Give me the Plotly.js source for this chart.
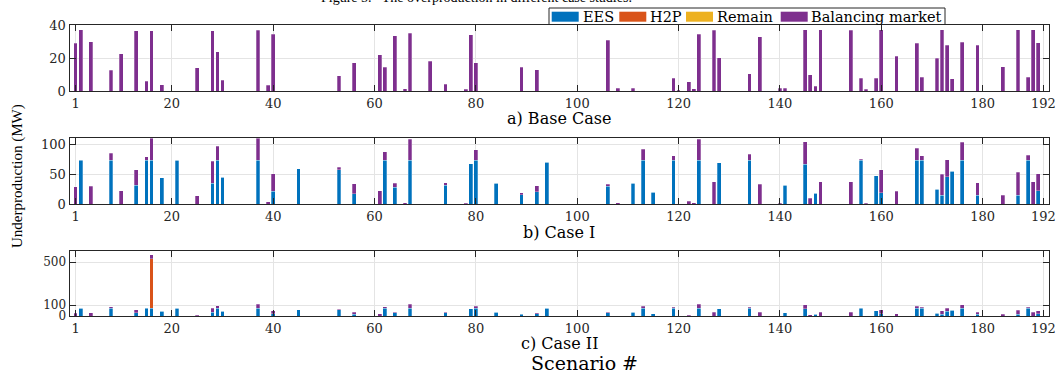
<!DOCTYPE html>
<html>
<head>
<meta charset="utf-8">
<script src="https://cdn.plot.ly/plotly-3.0.1.min.js"></script>
<style>html,body{margin:0;padding:0;background:#fff;}#chart{width:1060px;height:375px;}</style>
</head>
<body>
<div id="chart"></div>
<script>
// ---------- data ----------
const seriesNames = ["EES", "H2P", "Remain", "Balancing market"];
const seriesColors = ["#0072BD", "#D95319", "#EDB120", "#7E2F8E"];
const xTickVals = [1, 20, 40, 60, 80, 100, 120, 140, 160, 180, 192];
const xTickText = ["1", "20", "40", "60", "80", "100", "120", "140", "160", "180", "192"];
const panelLabels = ["a) Base Case", "b) Case I", "c) Case II"];

// a) Base Case – balancing market only
const baseScen = [1,2,4,8,10,13,15,16,18,25,28,29,30,37,39,40,53,56,61,62,64,66,67,71,74,78,79,80,89,92,106,108,111,119,120,122,123,124,127,128,134,136,140,141,145,146,147,148,154,156,157,159,160,163,167,168,171,172,173,174,176,179,184,187,189,190,191];
const baseBM = [29,37,30,12.5,22.5,36.5,6,36.5,3.7,14,36.5,23.7,6.5,36.7,3.5,34.5,9.2,17,22,14.5,33.5,1.4,35,18,4,1,34,17,14.3,13,30.8,1.8,1.8,7.6,0.6,5.5,1.4,34.3,36.7,20.2,10.4,33,1.6,1.6,37,9.8,3,37,36.7,7.6,1,7.6,37,21,28.8,8.4,19.8,37,27.8,7.3,29.4,27.8,14.7,37,8.4,37,29.2];

// b) Case I
const c1Scen = [1,2,4,8,10,13,15,16,18,21,25,28,29,30,37,39,40,45,53,56,61,62,64,66,67,74,78,79,80,84,89,92,94,106,108,111,113,115,119,122,123,124,127,128,134,136,140,141,145,146,147,148,154,156,157,159,160,163,167,168,171,172,173,174,176,179,184,187,189,190,191];
const c1EES = [0,73,0,73,0,31,73,73,44,73,0,35,73,45,73,0,21,59,57.5,17,0,73,28,0,73,31,0,67,73,35,15.6,20.7,70,30,0,34.6,73,20,73,0,0,73,0,69,73,0,0,31,66.5,0,18.4,0,0,73,0,47,19,0,73,73,24.6,15,46,55,73,15,0,15,73,0,22];
const c1BM = [29,1,30,12,22.5,26,6,37,0,0,14,37,23.6,0,37,3.4,30,0,4,17,22,14.5,6.5,1.7,35,4.5,1,0,17.5,0,3.4,9.5,0,3.3,1.7,0,19,0,7.4,5,1.7,35,37,0,10,33,1,0,38,10,0,37,37,2,1,0,38,21,20,8,0,35,28,0,30,21,14.5,38,8.6,37,29];

// c) Case II
const c2Scen = [1,2,4,8,13,15,16,18,21,25,28,29,30,37,39,40,45,53,56,61,62,64,66,67,74,78,79,80,84,89,92,94,106,108,111,113,115,119,122,123,124,127,128,134,136,140,141,145,146,147,148,154,156,157,159,160,163,167,168,171,172,173,174,176,179,184,187,189,190,191];
const c2EES = [0,73,0,73,31,73,73,44,73,0,35,73,45,73,0,21,59,57.5,17,0,73,28,0,73,31,0,67,73,35,15.6,20.7,70,30,0,34.6,73,20,73,0,0,73,0,69,73,0,0,31,66.5,0,18.4,0,0,73,0,47,19,0,73,73,24.6,15,46,55,73,15,0,15,73,0,22];
const c2H2PScen = [16];
const c2H2P = [460];
const c2BM = [25,1,28,12,26,6,35,0,0,9,37,23.6,0,37,3.4,30,0,4,17,22,14.5,6.5,1.7,35,4.5,1,0,17.5,0,3.4,9.5,0,3.3,1.7,0,19,0,7.4,5,1.7,35,37,0,10,33,1,0,38,10,0,37,37,2,1,0,38,21,20,8,0,35,28,0,30,21,14.5,38,8.6,37,29];

// ---------- layout helpers ----------
const W = 1060, H = 375;
const px = v => v / W;            // pixel x -> paper
const py = v => 1 - v / H;        // pixel y -> paper
const serif = '"DejaVu Serif", "Liberation Serif", serif';
const times = '"Liberation Serif", "Times New Roman", serif';
const axCol = "#262626";

function bar(x, y, k, xa, ya) {
  return {
    type: "bar", x: x, y: y, name: seriesNames[k], xaxis: xa, yaxis: ya,
    width: 0.75, showlegend: false, hoverinfo: "x+y+name",
    marker: { color: seriesColors[k], line: { width: 0.6, color: "rgba(255,255,255,0.45)" } }
  };
}

const data = [
  bar(baseScen, baseBM, 3, "x", "y"),
  bar(c1Scen, c1EES, 0, "x2", "y2"),
  bar(c1Scen, c1BM, 3, "x2", "y2"),
  bar(c2Scen, c2EES, 0, "x3", "y3"),
  bar(c2H2PScen, c2H2P, 1, "x3", "y3"),
  bar(c2Scen, c2BM, 3, "x3", "y3")
];

const xDom = [px(69.5), px(1049)];
function xAxis(anchor) {
  return {
    domain: xDom, anchor: anchor, range: [-0.2, 193.1],
    tickmode: "array", tickvals: xTickVals, ticktext: xTickText,
    ticks: "inside", ticklen: 6, tickwidth: 1, tickcolor: axCol,
    showline: true, linecolor: axCol, linewidth: 1, mirror: "ticks",
    showgrid: true, gridcolor: "#e4e4e4", gridwidth: 1, zeroline: false,
    tickfont: { family: serif, size: 13, color: axCol }, fixedrange: true
  };
}
function yAxis(anchor, dom, rng, ticks, fs) {
  return {
    domain: dom, anchor: anchor, range: rng,
    tickmode: "array", tickvals: ticks, ticktext: ticks.map(String),
    ticks: "inside", ticklen: 6, tickwidth: 1, tickcolor: axCol,
    showline: true, linecolor: axCol, linewidth: 1, mirror: "ticks",
    showgrid: true, gridcolor: "#e4e4e4", gridwidth: 1, zeroline: false,
    tickfont: { family: serif, size: fs, color: axCol }, fixedrange: true
  };
}

// custom legend (box, swatches, labels)
const legSwatchX = [551.7, 619.3, 686, 780.7];
const legTextX = [580.5, 648, 715, 809];
const shapes = [{
  type: "rect", xref: "paper", yref: "paper",
  x0: px(549), x1: px(945), y0: py(24.5), y1: py(8),
  line: { color: axCol, width: 1 }, fillcolor: "#ffffff", layer: "above"
}];
const annotations = [];
seriesNames.forEach((n, k) => {
  shapes.push({
    type: "rect", xref: "paper", yref: "paper",
    x0: px(legSwatchX[k]), x1: px(legSwatchX[k] + 27), y0: py(21.7), y1: py(11.7),
    line: { width: 0 }, fillcolor: seriesColors[k], layer: "above"
  });
  annotations.push({
    xref: "paper", yref: "paper", x: px(legTextX[k]), y: py(16.5),
    xanchor: "left", yanchor: "middle", showarrow: false, text: n,
    font: { family: serif, size: 14.5, color: "#000" }
  });
});

// panel captions
const capY = [118, 233, 343];
panelLabels.forEach((t, i) => {
  annotations.push({
    xref: "paper", yref: "paper", x: px(559), y: py(capY[i]),
    xanchor: "center", yanchor: "middle", showarrow: false, text: t,
    font: { family: serif, size: 16, color: "#000" }
  });
});
// x title
annotations.push({
  xref: "paper", yref: "paper", x: px(584), y: py(362.5),
  xanchor: "center", yanchor: "middle", showarrow: false, text: "Scenario #",
  font: { family: serif, size: 19, color: "#000" }
});
// y title
annotations.push({
  xref: "paper", yref: "paper", x: px(17), y: py(176),
  xanchor: "center", yanchor: "middle", showarrow: false, textangle: -90,
  text: "Underproduction (MW)", font: { family: times, size: 15, color: "#000" }
});
// figure caption (cut at top)
annotations.push({
  xref: "paper", yref: "paper", x: px(476), y: py(7.5),
  xanchor: "center", yanchor: "bottom", showarrow: false,
  text: "Figure 5.   The overproduction in different case studies.",
  font: { family: times, size: 14, color: "#000" }
});

const layout = {
  width: W, height: H, margin: { l: 0, r: 0, t: 0, b: 0 },
  paper_bgcolor: "#fff", plot_bgcolor: "#fff",
  barmode: "stack", bargap: 0.2, showlegend: false,
  xaxis: xAxis("y"), yaxis: yAxis("x", [py(91), py(25)], [0, 40], [0, 20, 40], 13),
  xaxis2: xAxis("y2"), yaxis2: yAxis("x2", [py(204), py(138.3)], [0, 110], [0, 50, 100], 13),
  xaxis3: xAxis("y3"), yaxis3: yAxis("x3", [py(316), py(251)], [0, 605], [0, 100, 500], 12),
  shapes: shapes, annotations: annotations
};

Plotly.newPlot("chart", data, layout, { displayModeBar: false, staticPlot: true });
</script>
</body>
</html>
